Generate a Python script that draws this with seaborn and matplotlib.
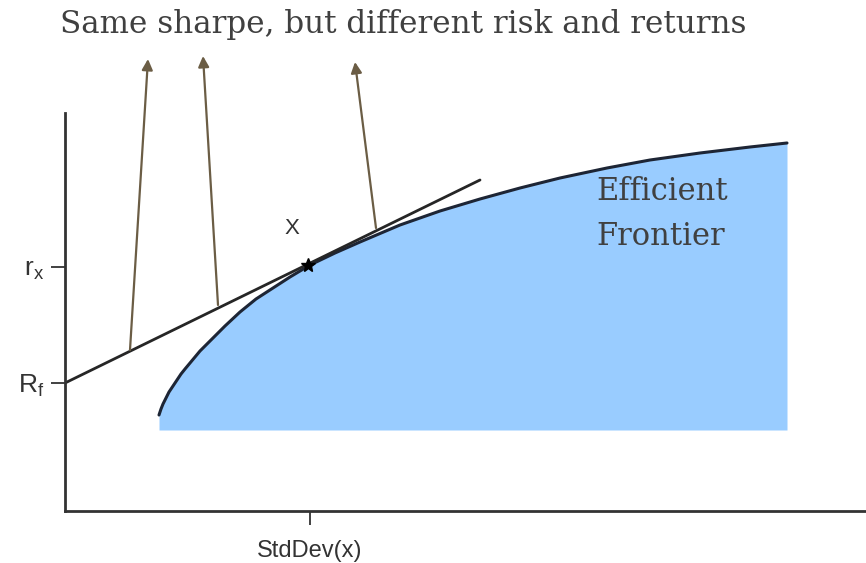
import numpy as np
import pandas as pd
import matplotlib
matplotlib.use("Agg")
import matplotlib.pyplot as plt
import seaborn as sns

# efficient frontier (risk, return), arbitrary units
FRONTIER_RISK = [94, 96, 98, 101, 104, 108, 112, 116, 120, 125, 135, 147, 160, 175, 191, 208,
                 225, 245, 270, 295, 335, 375, 415, 455, 495, 542, 585, 635, 685, 722]
FRONTIER_RET = [96, 102, 107, 113, 119, 125, 131, 137, 142, 148, 160, 172, 185, 199, 212, 223,
                234, 246, 258, 269, 286, 300, 312, 323, 333, 343, 351, 358, 364, 368]
FILL_FLOOR = 81

# capital market line from the risk free rate
CML_RISK = [0, 415]
CML_RET = [128, 331]

# tangency portfolio X
X_RISK = 243
X_RET = 246
RF = 128
RX = 244

# arrows: (start risk, start ret, tip risk, tip ret)
ARROW_START_RISK = [65, 153, 311]
ARROW_START_RET = [161, 206, 283]
ARROW_TIP_RISK = [83, 138, 290]
ARROW_TIP_RET = [452, 455, 449]

TITLE = "Same sharpe, but different risk and returns"

sns.set_style("ticks")
plt.rcParams["font.family"] = ["Liberation Sans", "DejaVu Sans"]

W, H = 866, 563
fig = plt.figure(figsize=(W / 100, H / 100), dpi=100)
ax = fig.add_axes([65 / W, (H - 511) / H, (W - 65) / W, (511 - 113) / H])

frontier = pd.DataFrame({"risk": FRONTIER_RISK, "ret": FRONTIER_RET})
cml = pd.DataFrame({"risk": CML_RISK, "ret": CML_RET})

ax.fill_between(frontier["risk"], FILL_FLOOR, frontier["ret"], color="#99ccff", lw=0)
sns.lineplot(data=frontier, x="risk", y="ret", ax=ax, color="#1d2535", lw=2.2, sort=False)
sns.lineplot(data=cml, x="risk", y="ret", ax=ax, color="#262626", lw=2.0, sort=False)
ax.plot([X_RISK], [X_RET], marker="*", color="black", ms=10)

for sx, sy, tx, ty in zip(ARROW_START_RISK, ARROW_START_RET, ARROW_TIP_RISK, ARROW_TIP_RET):
    ax.annotate("", xy=(tx, ty), xytext=(sx, sy), annotation_clip=False,
                arrowprops=dict(arrowstyle="-|>", color="#6b5d45", lw=1.6,
                                mutation_scale=16, shrinkA=0, shrinkB=0))

ax.text(X_RISK - 16, X_RET + 37, "X", fontsize=16, color="#333333", ha="center", va="center")

ax.set_xlim(0, W - 65)
ax.set_ylim(0, 511 - 113)
ax.set_xticks([X_RISK + 2])
ax.set_xticklabels(["StdDev(x)"])
ax.set_yticks([RF, RX])
ax.set_yticklabels([r"$\mathregular{R_f}$", r"$\mathregular{r_x}$"], fontsize=19)
ax.tick_params(axis="both", length=10, width=1.3, color="#333333",
               labelcolor="#333333", pad=5)
ax.tick_params(axis="x", labelsize=17, pad=11)
ax.set_xlabel("")
ax.set_ylabel("")
sns.despine(ax=ax)
for side in ["left", "bottom"]:
    ax.spines[side].set_linewidth(2.0)
    ax.spines[side].set_color("#333333")

fig.text(403 / W, 1 - 25 / H, TITLE, fontsize=22.3, family="DejaVu Serif",
         color="#404040", ha="center", va="center")
fig.text(596 / W, 1 - 214 / H, "Efficient\nFrontier", fontsize=22, family="DejaVu Serif",
         color="#404040", ha="left", va="center", linespacing=1.55)

fig.savefig("out.png", dpi=100)
